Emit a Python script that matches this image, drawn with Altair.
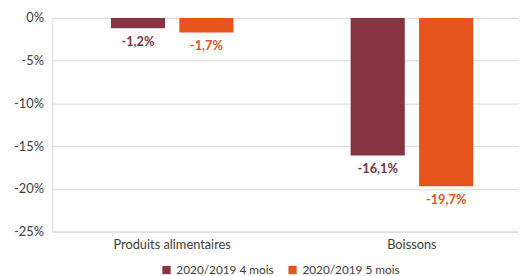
import altair as alt
import pandas as pd

categories = ["Produits alimentaires", "Produits alimentaires", "Boissons", "Boissons"]
series = ["2020/2019 4 mois", "2020/2019 5 mois", "2020/2019 4 mois", "2020/2019 5 mois"]
values = [-1.2, -1.7, -16.1, -19.7]
labels = ["-1,2%", "-1,7%", "-16,1%", "-19,7%"]

cat_order = ["Produits alimentaires", "Boissons"]
ser_order = ["2020/2019 4 mois", "2020/2019 5 mois"]
colors = ["#863442", "#E5541B"]
text_colors = ["#7B3344", "#E0561F"]

df = pd.DataFrame({"cat": categories, "serie": series, "val": values, "lab": labels})

FONT = "Lato"

xscale = alt.Scale(range=[0, 487], paddingInner=0, paddingOuter=0)
x = alt.X("cat:N", sort=cat_order, title=None, scale=xscale,
          axis=alt.Axis(labelAngle=0, domain=False, ticks=False, labelPadding=7,
                        labelFontSize=13, labelColor="#404040", labelFont=FONT))
xo = alt.XOffset("serie:N", sort=ser_order,
                 scale=alt.Scale(paddingInner=0.209, paddingOuter=0.856))

bars = alt.Chart(df).mark_bar().encode(
    x=x, xOffset=xo,
    y=alt.Y("val:Q", title=None,
            scale=alt.Scale(domain=[-25, 0], nice=False),
            axis=alt.Axis(values=[0, -5, -10, -15, -20, -25], labelExpr="datum.value + '%'",
                          domain=False, ticks=False, labelPadding=9, labelFontSize=13,
                          labelColor="#404040", labelFont=FONT,
                          gridColor="#d9d9d9", gridWidth=1)),
    y2=alt.datum(0),
    color=alt.Color("serie:N", sort=ser_order, scale=alt.Scale(domain=ser_order, range=colors),
                    legend=alt.Legend(title=None, orient="none", direction="horizontal",
                                      legendX=110, legendY=250, symbolType="square",
                                      symbolSize=70, labelFontSize=12, labelColor="#404040",
                                      labelFont=FONT, columnPadding=13, symbolStrokeWidth=0)),
)

text = alt.Chart(df).mark_text(baseline="top", dy=8, fontSize=13, fontWeight="bold", font=FONT).encode(
    x=x, xOffset=xo,
    y=alt.Y("val:Q"),
    text="lab:N",
    color=alt.Color("serie:N", sort=ser_order, scale=alt.Scale(domain=ser_order, range=text_colors), legend=None),
)

chart = alt.layer(bars, text).resolve_scale(color="independent").properties(
    width=474, height=217,
    autosize=alt.AutoSizeParams(type="none"),
    padding={"left": 45, "top": 8, "right": 0, "bottom": 43},
).configure_view(stroke=None).configure(background="white")

chart.save("out.html", embed_options={"renderer": "svg", "actions": False})
